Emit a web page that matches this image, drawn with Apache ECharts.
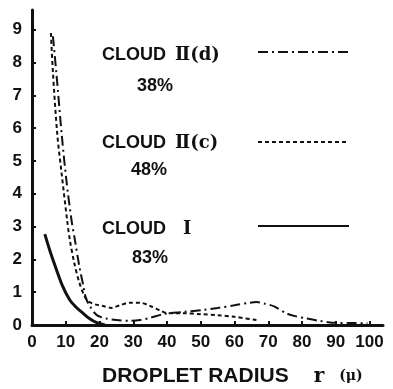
<html>
<head>
<meta charset="utf-8">
<script src="https://cdn.jsdelivr.net/npm/echarts@6/dist/echarts.min.js"></script>
<style>
  body { margin: 0; background: #fff; }
  #main { width: 393px; height: 389px; }
</style>
</head>
<body>
<div id="main"></div>
<script type="text/javascript">
  // tick labels
  var xTicks = [0, 10, 20, 30, 40, 50, 60, 70, 80, 90, 100];
  var yTicks = [0, 1, 2, 3, 4, 5, 6, 7, 8, 9];

  // curves: [radius, value]
  var cloudI = [[3.8, 2.77], [5.5, 2.2], [7.3, 1.67], [9, 1.2], [11.2, 0.76], [13, 0.55],
    [15.1, 0.36], [17, 0.2], [19.2, 0.07], [21.6, 0]];
  var cloudIIc = [[5.6, 8.9], [6.2, 7.7], [7.5, 5.8], [8.8, 4.6], [10.4, 3.2], [11.2, 2.6],
    [12.5, 1.9], [14, 1.3], [15.7, 0.85], [17, 0.7], [19, 0.62], [21, 0.58], [23.5, 0.52],
    [26, 0.6], [29, 0.68], [32, 0.68], [35, 0.58], [38, 0.44], [40, 0.36], [45, 0.36],
    [50, 0.33], [55, 0.3], [60, 0.25], [66.5, 0.15]];
  var cloudIId = [[6.2, 8.8], [7.2, 7.7], [8.9, 5.7], [10.2, 4.4], [11.7, 3.2], [12.7, 2.6],
    [14, 1.8], [15.2, 1.2], [15.9, 0.85], [17, 0.6], [19.2, 0.3], [22, 0.2], [25, 0.15],
    [29, 0.13], [32, 0.15], [35, 0.22], [39.3, 0.34], [45, 0.4], [50.7, 0.46], [55, 0.52],
    [60, 0.6], [64.5, 0.68], [66.5, 0.7], [69, 0.65], [71.9, 0.56], [75.3, 0.36], [78, 0.27],
    [81.3, 0.2], [85, 0.13], [89, 0.07], [95, 0.06], [99.4, 0.05]];

  var names = ['CLOUD II(d)', 'CLOUD II(c)', 'CLOUD I'];
  var percents = ['38%', '48%', '83%'];

  var txt = { fontFamily: 'Liberation Sans', fontWeight: 'bold', fontSize: 18, fill: '#111' };
  function label(x, y, s, extra) {
    var st = Object.assign({ text: s, textVerticalAlign: 'middle' }, txt, extra || {});
    return { type: 'text', left: x, top: y, style: st };
  }
  function legendAt(name, top) {
    return {
      data: [name], left: 257, top: top, padding: 0, itemWidth: 91, itemHeight: 10,
      itemStyle: { opacity: 0 },
      formatter: function () { return ''; }
    };
  }

  var myChart = echarts.init(document.getElementById('main'));
  var option = {
    animation: false,
    backgroundColor: '#fff',
    grid: { left: 32, right: 10, top: 10, bottom: 64 },
    xAxis: {
      type: 'value', min: 0, max: 104,
      splitLine: { show: false },
      axisLine: { lineStyle: { color: '#111', width: 3 } },
      axisTick: { inside: true, length: 4, lineStyle: { color: '#111', width: 2 }, customValues: xTicks },
      axisLabel: { customValues: xTicks, color: '#111', fontFamily: 'Liberation Sans', fontWeight: 'bold', fontSize: 17, margin: 9 }
    },
    yAxis: {
      type: 'value', min: 0, max: 9.6,
      splitLine: { show: false },
      axisLine: { show: true, lineStyle: { color: '#111', width: 3 } },
      axisTick: { show: true, inside: true, length: 4, lineStyle: { color: '#111', width: 2 }, customValues: yTicks },
      axisLabel: { customValues: yTicks, color: '#111', fontFamily: 'Liberation Sans', fontWeight: 'bold', fontSize: 17, margin: 10 }
    },
    title: {
      left: 102, top: 366, padding: 0,
      text: '{a|DROPLET RADIUS}     {b|r}   {c|(μ)}',
      textStyle: {
        rich: {
          a: { fontFamily: 'Liberation Sans', fontWeight: 'bold', fontSize: 21, color: '#111' },
          b: { fontFamily: 'DejaVu Serif', fontWeight: 'bold', fontSize: 20, color: '#111' },
          c: { fontFamily: 'DejaVu Serif', fontWeight: 'bold', fontSize: 14, color: '#111' }
        }
      }
    },
    legend: [legendAt(names[0], 47), legendAt(names[1], 137), legendAt(names[2], 221)],
    graphic: [
      label(102, 46, 'CLOUD'), label(175, 46, 'Ⅱ(d)', { fontFamily: 'DejaVu Serif' }),
      label(137, 77, percents[0]),
      label(102, 134, 'CLOUD'), label(175, 134, 'Ⅱ(c)', { fontFamily: 'DejaVu Serif' }),
      label(131, 161, percents[1]),
      label(102, 220, 'CLOUD'), label(183, 220, 'I', { fontFamily: 'DejaVu Serif' }),
      label(132, 249, percents[2])
    ],
    series: [
      { name: names[0], type: 'line', smooth: 0.3, symbol: 'none', data: cloudIId,
        lineStyle: { color: '#111', width: 2, type: [10, 4, 2, 4] } },
      { name: names[1], type: 'line', smooth: 0.3, symbol: 'none', data: cloudIIc,
        lineStyle: { color: '#111', width: 2, type: [4, 3] } },
      { name: names[2], type: 'line', smooth: 0.3, symbol: 'none', data: cloudI,
        lineStyle: { color: '#111', width: 3 } }
    ]
  };
  myChart.setOption(option);
</script>
</body>
</html>
